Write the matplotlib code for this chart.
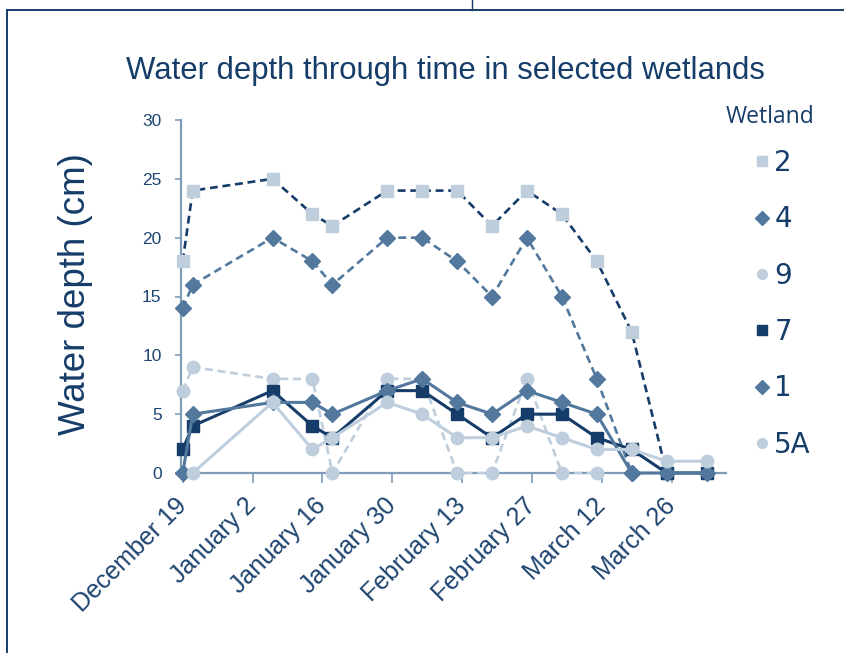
import matplotlib
matplotlib.use("Agg")
import matplotlib.pyplot as plt
import matplotlib.dates as mdates
import matplotlib.transforms as mtransforms
from matplotlib.lines import Line2D
import pandas as pd

# sampling dates (winter 2007/08), one list per wetland below
dates = pd.to_datetime(["2007-12-19", "2007-12-21", "2008-01-06", "2008-01-14", "2008-01-18",
                        "2008-01-29", "2008-02-05", "2008-02-12", "2008-02-19", "2008-02-26",
                        "2008-03-04", "2008-03-11", "2008-03-18", "2008-03-25", "2008-04-02"])

w2 = [18, 24, 25, 22, 21, 24, 24, 24, 21, 24, 22, 18, 12, 0]
w4 = [14, 16, 20, 18, 16, 20, 20, 18, 15, 20, 15, 8, 0]
w9 = [7, 9, 8, 8, 0, 8, 8, 0, 0, 8, 0, 0]
w7 = [2, 4, 7, 4, 3, 7, 7, 5, 3, 5, 5, 3, 2, 0, 0]
w1 = [0, 5, 6, 6, 5, 7, 8, 6, 5, 7, 6, 5, 0, 0, 0]
w5a = [0, 6, 2, 3, 6, 5, 3, 3, 4, 3, 2, 2, 1, 1]   # starts on the 2nd date

tick_dates = pd.date_range("2007-12-19", periods=8, freq="14D")
tick_labels = ["December 19", "January 2", "January 16", "January 30",
               "February 13", "February 27", "March 12", "March 26"]
y_ticks = [0, 5, 10, 15, 20, 25, 30]

NAVY = "#163D69"
STEEL = "#52789D"
LIGHT = "#BFCEDC"
AXC = "#7E9BB7"
TXT = "#1E4470"

plt.rcParams['font.family'] = ['Liberation Sans', 'DejaVu Sans']

fig = plt.figure(figsize=(8.45, 6.53), dpi=100)
ax = fig.add_axes([181/845, 1-473/653, (726-181)/845, (473-120)/653])

lw = 1.9
ms = 9
dash = (0, (3, 1.8))
ax.plot(dates[:len(w2)], w2, color=NAVY, ls=dash, lw=lw, marker='s', ms=ms,
        mfc=LIGHT, mec=LIGHT, zorder=3)
ax.plot(dates[:len(w4)], w4, color=STEEL, ls=dash, lw=lw, marker='D', ms=ms-0.5,
        mfc=STEEL, mec=STEEL, zorder=3)
ax.plot(dates[:len(w9)], w9, color=LIGHT, ls=dash, lw=lw, marker='o', ms=ms,
        mfc=LIGHT, mec=LIGHT, zorder=3)
ax.plot(dates[:len(w7)], w7, color=NAVY, ls='-', lw=lw+0.3, marker='s', ms=ms,
        mfc=NAVY, mec=NAVY, zorder=3)
ax.plot(dates[:len(w1)], w1, color=STEEL, ls='-', lw=lw+0.3, marker='D', ms=ms-0.5,
        mfc=STEEL, mec=STEEL, zorder=3)
ax.plot(dates[1:1+len(w5a)], w5a, color=LIGHT, ls='-', lw=lw+0.3, marker='o', ms=ms,
        mfc=LIGHT, mec=LIGHT, zorder=3)

d0 = mdates.date2num(dates[0])
ax.set_xlim(d0 - 0.35, d0 + 108.9)
ax.set_ylim(0, 30)
ax.set_xticks(tick_dates)
ax.set_xticklabels(tick_labels, rotation=45, ha='right', va='center',
                   rotation_mode='anchor', fontsize=18, color=TXT)
shift = mtransforms.ScaledTranslation(4/100, 0, fig.dpi_scale_trans)
for lab in ax.get_xticklabels():
    lab.set_transform(lab.get_transform() + shift)
ax.set_yticks(y_ticks)
ax.set_yticklabels([str(v) for v in y_ticks], fontsize=12.5, color=TXT)
ax.tick_params(axis='x', length=7, width=1.2, color=AXC, pad=14)
ax.tick_params(axis='y', length=4, width=1.2, color=AXC, pad=10)
for s in ['top', 'right']:
    ax.spines[s].set_visible(False)
for s in ['left', 'bottom']:
    ax.spines[s].set_color(AXC)
    ax.spines[s].set_linewidth(1.6)
for ln in ax.lines:
    ln.set_clip_on(False)

ax.set_ylabel("Water depth (cm)", fontsize=26.5, color=NAVY, va='center')
ax.yaxis.set_label_coords(-0.194, 0.508)
fig.text(0.527, 0.892, "Water depth through time in selected wetlands",
         ha='center', va='center', fontsize=22.4, color=NAVY)

# legend: markers only, title as separate text
names = ["2", "4", "9", "7", "1", "5A"]
styles = [('s', LIGHT), ('D', STEEL), ('o', LIGHT), ('s', NAVY), ('D', STEEL), ('o', LIGHT)]
handles = [Line2D([], [], ls='none', marker=m, ms=7 if m != 'D' else 7.5, mfc=c, mec=c)
           for m, c in styles]
leg = ax.legend(handles, names, loc='upper left',
                bbox_to_anchor=(741/845, 1-138/653), bbox_transform=fig.transFigure,
                frameon=False, prop={'family': 'DejaVu Sans', 'size': 20},
                labelspacing=1.02, handlelength=0.7, handletextpad=0.1, borderaxespad=0)
for t in leg.get_texts():
    t.set_color(NAVY)
fig.text(770/845, 1-117/653, "Wetland", ha='center', va='center',
         fontsize=16.5, color=NAVY, family='Open Sans')

# outer frame of the slide
fig.add_artist(Line2D([7/845, 7/845], [0, 1-9.5/653], color=NAVY, lw=1.4))
fig.add_artist(Line2D([7/845, 1], [1-9.5/653, 1-9.5/653], color=NAVY, lw=1.4))
fig.add_artist(Line2D([472/845, 472/845], [1-9.5/653, 1], color=NAVY, lw=1.0))

fig.savefig("out.png", dpi=100)
